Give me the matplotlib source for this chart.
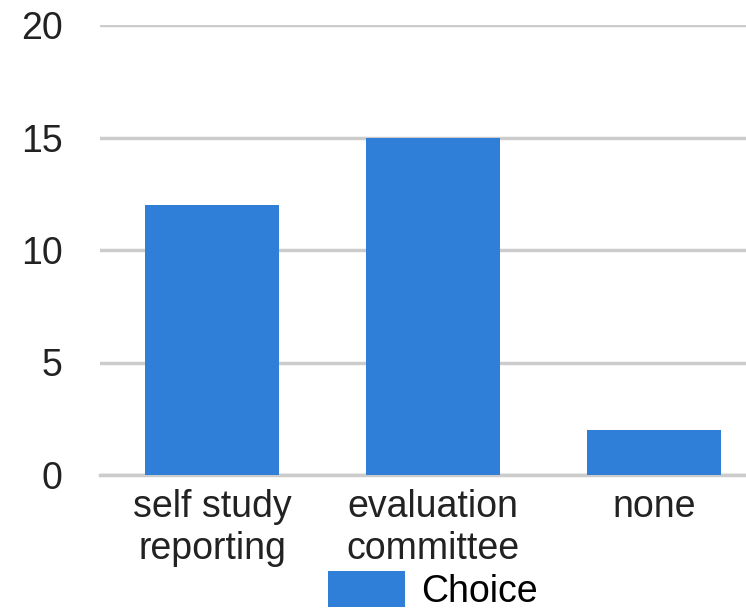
import matplotlib
matplotlib.use("Agg")
import matplotlib.pyplot as plt

# data
categories = ["self study\nreporting", "evaluation\ncommittee", "none"]
values = [12, 15, 2]
series_name = "Choice"
y_ticks = [0, 5, 10, 15, 20]

bar_color = "#2f7ed8"
grid_color = "#cccccc"

plt.rcParams["font.family"] = ["Liberation Sans", "DejaVu Sans"]
plt.rcParams["font.size"] = 27

fig = plt.figure(figsize=(7.46, 6.11), dpi=100)
ax = fig.add_axes([100 / 746, (611 - 475) / 611, 646 / 746, 450 / 611])

x = list(range(len(categories)))
ax.bar(x, values, width=0.61, color=bar_color, label=series_name, zorder=3)

ax.set_xlim(-0.507, 2.416)
ax.set_ylim(0, 20)
ax.set_yticks(y_ticks)
ax.set_xticks(x)
ax.set_xticklabels(categories, linespacing=1.22)

ax.yaxis.grid(True, color=grid_color, linewidth=2.5, zorder=0)
ax.tick_params(axis="both", length=0, colors="#222222")
ax.tick_params(axis="y", pad=27)
ax.tick_params(axis="x", pad=10)

for side in ["top", "right", "left"]:
    ax.spines[side].set_visible(False)
ax.spines["bottom"].set_color(grid_color)
ax.spines["bottom"].set_linewidth(2.5)

fig.legend(loc="center", bbox_to_anchor=(0.58, 0.033), frameon=False,
           handlelength=2.05, handleheight=1.1, handletextpad=0.42,
           borderpad=0, borderaxespad=0)

fig.savefig("out.png", dpi=100)
